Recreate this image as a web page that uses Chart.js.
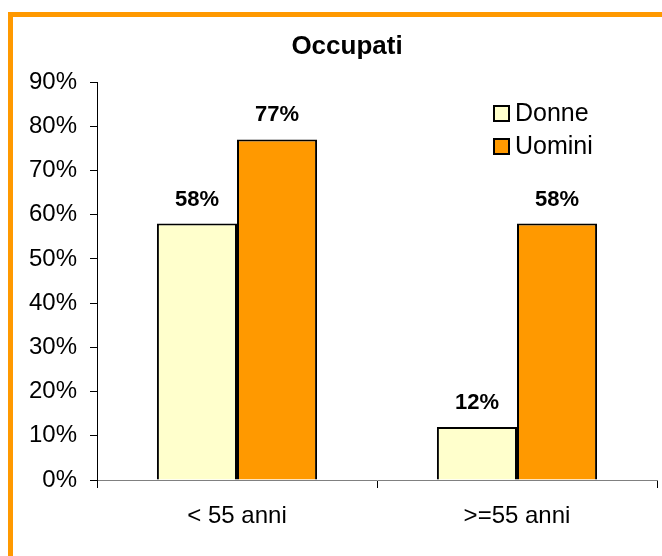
<!DOCTYPE html>
<html>
<head>
<meta charset="utf-8">
<script src="https://cdn.jsdelivr.net/npm/chart.js@4/dist/chart.umd.min.js"></script>
<style>
    html, body { margin: 0; padding: 0; background: #fff; overflow: hidden; }
    #cornice {
        position: absolute; left: 8px; top: 12px; width: 700px; height: 600px;
        border-top: 5px solid #FF9900; border-left: 5px solid #FF9900;
    }
    #wrap { position: absolute; left: 0; top: 0; width: 662px; height: 556px; }
</style>
</head>
<body>
<div id="cornice"></div>
<div id="wrap"><canvas id="occupati" width="662" height="556"></canvas></div>
<script>
// Dati del grafico
const categorie = ['< 55 anni', '>=55 anni'];
const donne = [58, 12];
const uomini = [77, 58];
const tickY = [0, 10, 20, 30, 40, 50, 60, 70, 80, 90];

const FONT = '"Liberation Sans", Arial, sans-serif';

// Titolo centrato come nell'originale
const titoloPlugin = {
    id: 'titolo',
    afterDraw(chart) {
        const ctx = chart.ctx;
        ctx.save();
        ctx.font = 'bold 26px ' + FONT;
        ctx.fillStyle = '#000';
        ctx.textAlign = 'center';
        ctx.textBaseline = 'alphabetic';
        ctx.fillText('Occupati', 347, 54);
        ctx.restore();
    }
};

// Legenda verticale dentro l'area del grafico
const legendaPlugin = {
    id: 'legenda',
    afterDraw(chart) {
        const ctx = chart.ctx;
        ctx.save();
        chart.data.datasets.forEach((ds, i) => {
            const base = 121 + i * 33;
            ctx.fillStyle = ds.backgroundColor;
            ctx.fillRect(494, base - 15, 15, 15);
            ctx.lineWidth = 2;
            ctx.strokeStyle = '#000';
            ctx.strokeRect(494, base - 15, 15, 15);
            ctx.font = '25px ' + FONT;
            ctx.fillStyle = '#000';
            ctx.textAlign = 'left';
            ctx.fillText(ds.label, 515, base);
        });
        ctx.restore();
    }
};

// Etichette con i valori sopra le barre
const etichettePlugin = {
    id: 'etichette',
    afterDatasetsDraw(chart) {
        const ctx = chart.ctx;
        ctx.save();
        ctx.font = 'bold 22px ' + FONT;
        ctx.fillStyle = '#000';
        ctx.textAlign = 'center';
        ctx.textBaseline = 'alphabetic';
        chart.data.datasets.forEach((ds, i) => {
            chart.getDatasetMeta(i).data.forEach((bar, j) => {
                ctx.fillText(ds.data[j] + '%', bar.x, bar.y - 18);
            });
        });
        ctx.restore();
    }
};

new Chart(document.getElementById('occupati').getContext('2d'), {
    type: 'bar',
    data: {
        labels: categorie,
        datasets: [
            {
                label: 'Donne',
                data: donne,
                backgroundColor: '#FFFFCC',
                borderColor: '#000',
                borderWidth: 2,
                categoryPercentage: 0.572,
                barPercentage: 1
            },
            {
                label: 'Uomini',
                data: uomini,
                backgroundColor: '#FF9900',
                borderColor: '#000',
                borderWidth: 2,
                categoryPercentage: 0.572,
                barPercentage: 1
            }
        ]
    },
    options: {
        responsive: false,
        animation: false,
        layout: { padding: { left: 0, right: 5, top: 82, bottom: 0 } },
        plugins: {
            legend: { display: false },
            title: { display: false },
            tooltip: { enabled: false }
        },
        scales: {
            x: {
                grid: {
                    display: true,
                    drawOnChartArea: false,
                    drawTicks: true,
                    tickLength: 8,
                    color: '#000'
                },
                border: { display: true, color: '#808080', width: 1 },
                ticks: {
                    color: '#000',
                    font: { family: FONT, size: 24 },
                    padding: 14
                },
                afterFit: axis => { axis.height = 76; }
            },
            y: {
                min: 0,
                max: 90,
                afterBuildTicks: axis => { axis.ticks = tickY.map(v => ({ value: v })); },
                grid: {
                    display: true,
                    drawOnChartArea: false,
                    drawTicks: true,
                    tickLength: 7,
                    color: '#000'
                },
                border: { display: true, color: '#000', width: 1 },
                ticks: {
                    color: '#000',
                    font: { family: FONT, size: 24 },
                    padding: 13,
                    callback: value => value + '%'
                },
                afterFit: axis => { axis.width = 97; }
            }
        }
    },
    plugins: [titoloPlugin, legendaPlugin, etichettePlugin]
});
</script>
</body>
</html>
